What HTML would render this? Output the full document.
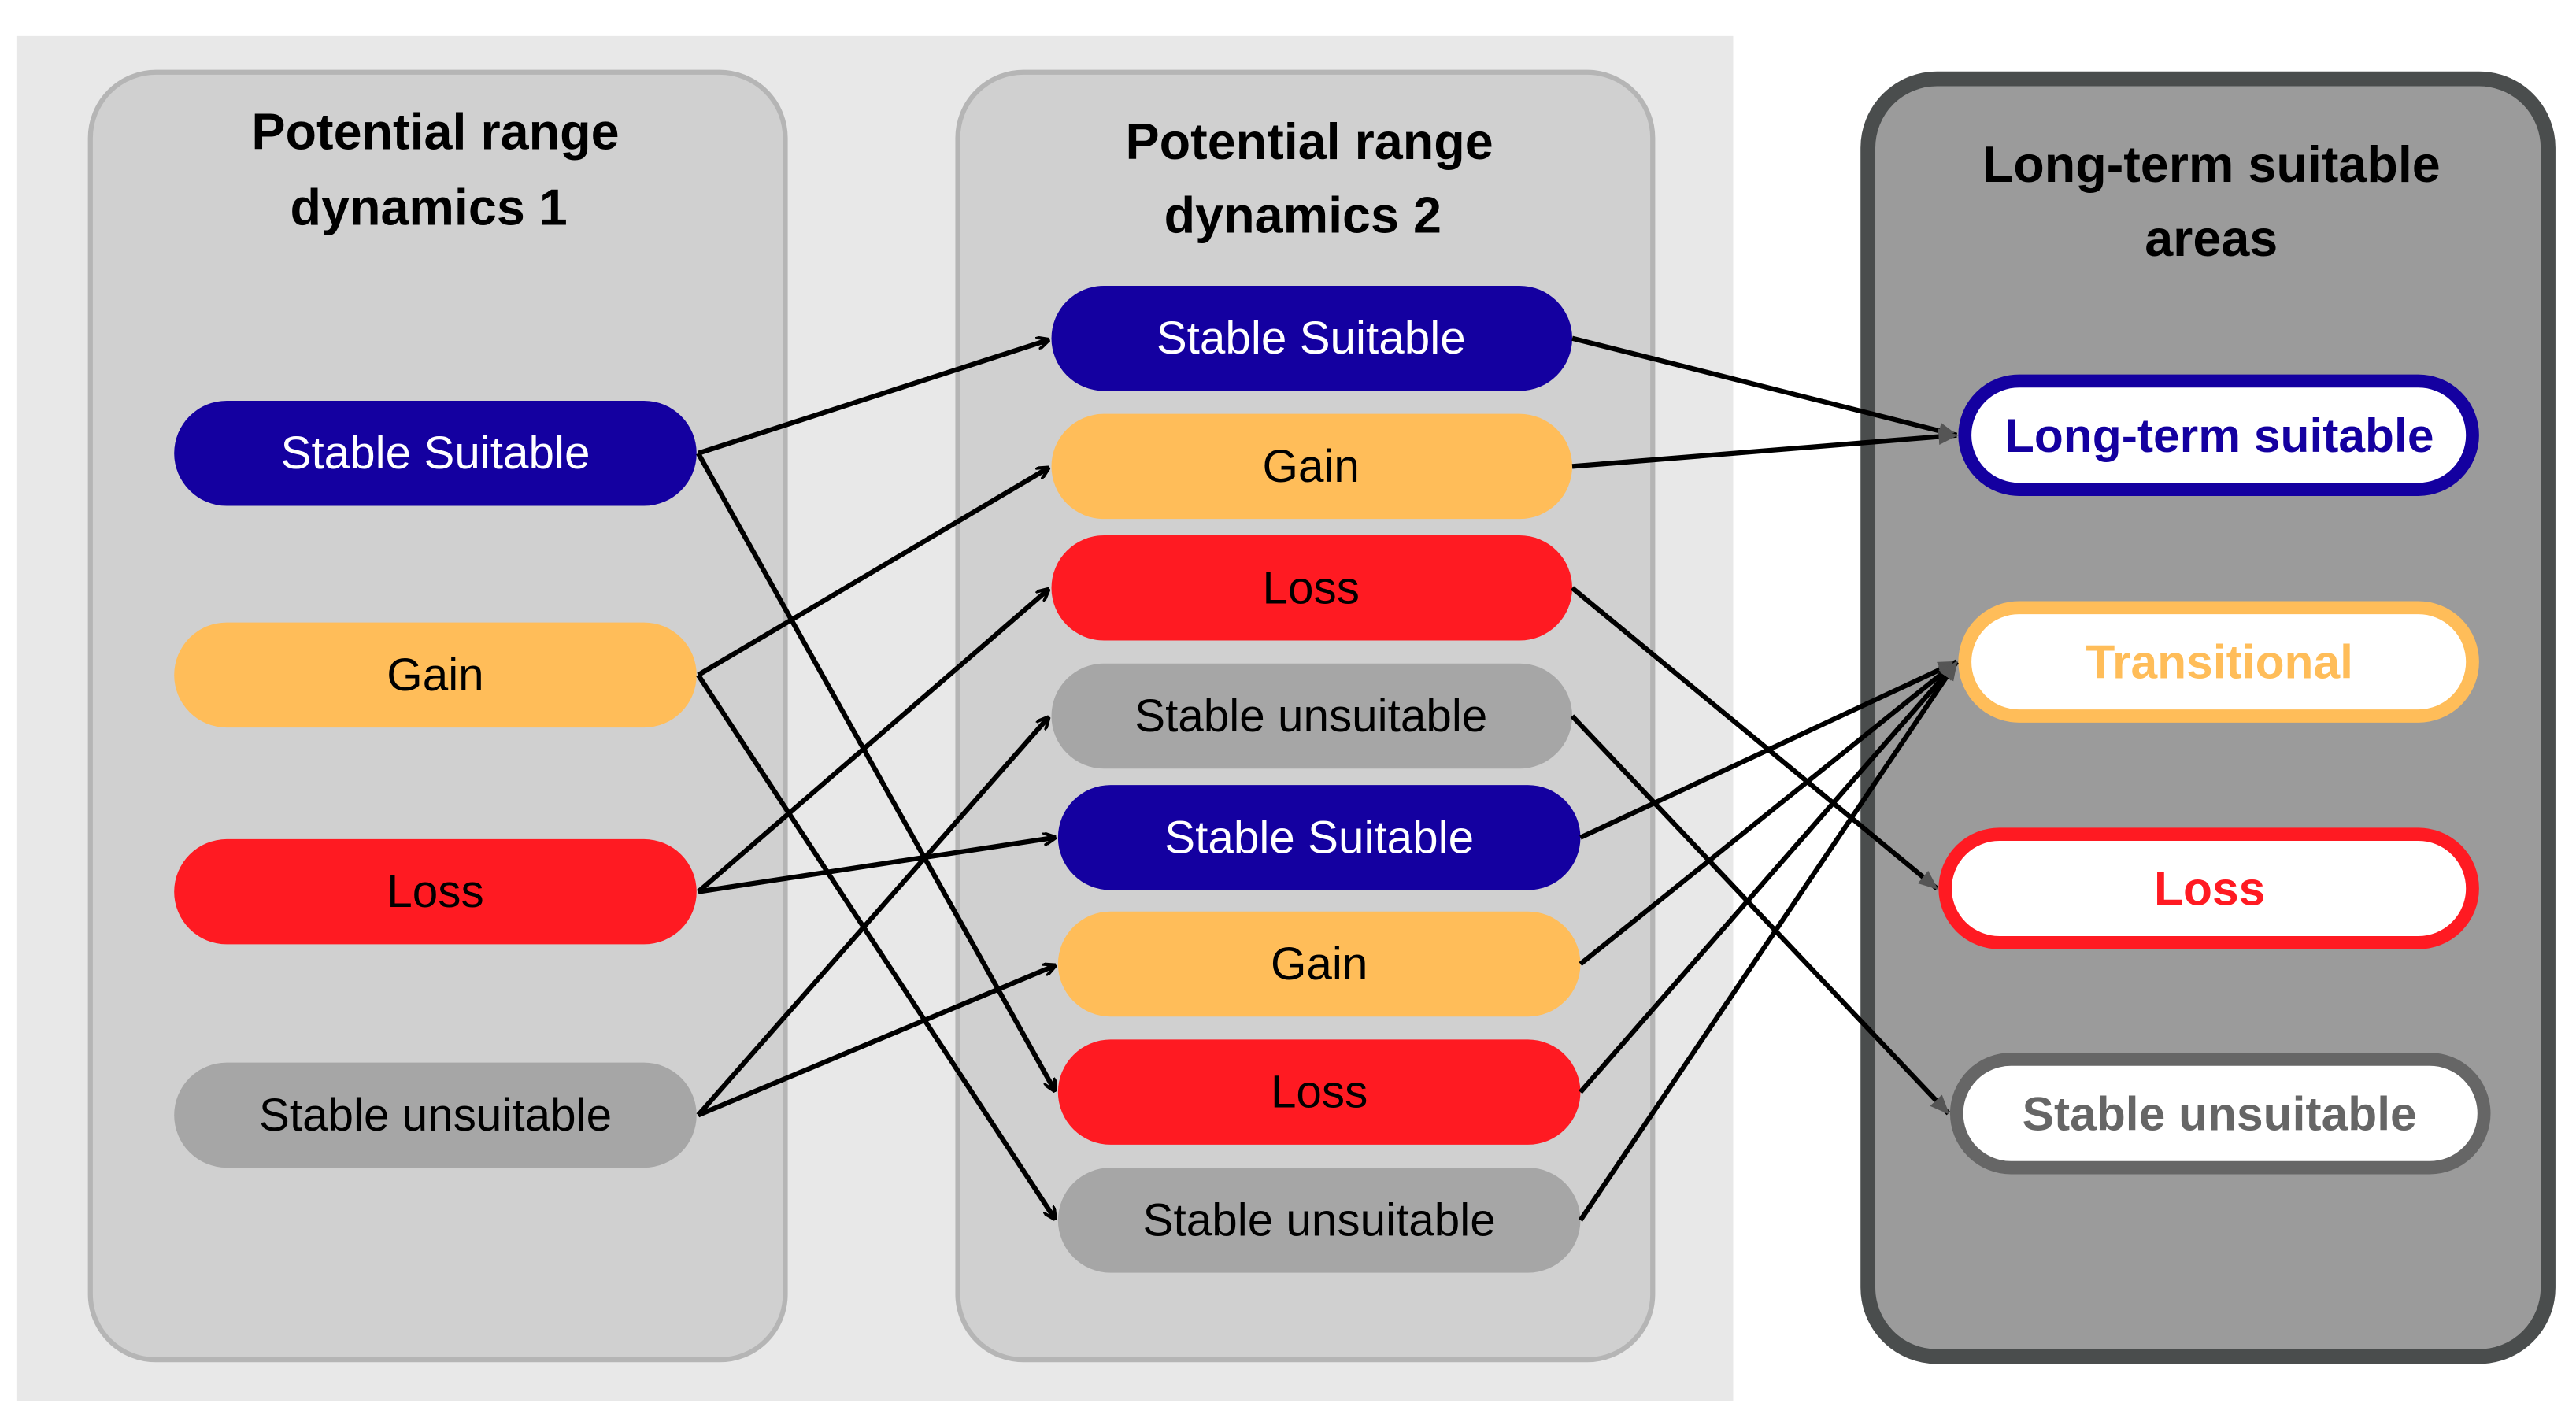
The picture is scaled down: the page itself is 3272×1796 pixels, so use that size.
<!DOCTYPE html>
<html><head><meta charset="utf-8"><style>
html,body{margin:0;padding:0;background:#fff;}
svg{display:block;}
text{font-family:"Liberation Sans","DejaVu Sans",sans-serif;text-anchor:middle;dominant-baseline:central;}
</style></head><body>
<svg width="3272" height="1796" viewBox="0 0 1568 861" preserveAspectRatio="none" xmlns="http://www.w3.org/2000/svg">
<defs>
<marker id="a" markerWidth="8" markerHeight="8" refX="7" refY="4" orient="auto" markerUnits="userSpaceOnUse" viewBox="0 0 8 8">
<path d="M0,0 L8,4 L0,8" fill="none" stroke="#000" stroke-width="2"/>
</marker>
<marker id="g" markerWidth="12" markerHeight="12" refX="11" refY="6" orient="auto" markerUnits="userSpaceOnUse" viewBox="0 0 12 12">
<path d="M0,1 L12,6 L0,11 Z" fill="#555"/>
</marker>
</defs>
<rect x="0" y="0" width="1568" height="861" fill="#fff"/>
<rect x="10" y="22" width="1045" height="831" fill="#e8e8e8"/>
<rect x="55" y="44" width="423" height="784" rx="40" fill="#d0d0d0" stroke="#b5b5b5" stroke-width="3"/>
<rect x="583" y="44" width="423" height="784" rx="40" fill="#d0d0d0" stroke="#b5b5b5" stroke-width="3"/>
<rect x="1137" y="48" width="414" height="778" rx="42" fill="#9b9b9b" stroke="#4a4d4d" stroke-width="9"/>

<g font-weight="bold" font-size="31" fill="#000">
<text x="265" y="80">Potential range</text><text x="261" y="126">dynamics 1</text>
<text x="797" y="86">Potential range</text><text x="793" y="131">dynamics 2</text>
<text x="1346" y="100">Long-term suitable</text><text x="1346" y="145">areas</text>
</g>

<g font-size="28">
<rect x="106" y="244" width="318" height="64" rx="32" fill="#1400a0"/><text x="265" y="276" fill="#fff">Stable Suitable</text>
<rect x="106" y="379" width="318" height="64" rx="32" fill="#ffbd59"/><text x="265" y="411" fill="#000">Gain</text>
<rect x="106" y="511" width="318" height="64" rx="32" fill="#ff1a22"/><text x="265" y="543" fill="#000">Loss</text>
<rect x="106" y="647" width="318" height="64" rx="32" fill="#a6a6a6"/><text x="265" y="679" fill="#000">Stable unsuitable</text>

<rect x="640" y="174" width="317" height="64" rx="32" fill="#1400a0"/><text x="798" y="206" fill="#fff">Stable Suitable</text>
<rect x="640" y="252" width="317" height="64" rx="32" fill="#ffbd59"/><text x="798" y="284" fill="#000">Gain</text>
<rect x="640" y="326" width="317" height="64" rx="32" fill="#ff1a22"/><text x="798" y="358" fill="#000">Loss</text>
<rect x="640" y="404" width="317" height="64" rx="32" fill="#a6a6a6"/><text x="798" y="436" fill="#000">Stable unsuitable</text>
<rect x="644" y="478" width="318" height="64" rx="32" fill="#1400a0"/><text x="803" y="510" fill="#fff">Stable Suitable</text>
<rect x="644" y="555" width="318" height="64" rx="32" fill="#ffbd59"/><text x="803" y="587" fill="#000">Gain</text>
<rect x="644" y="633" width="318" height="64" rx="32" fill="#ff1a22"/><text x="803" y="665" fill="#000">Loss</text>
<rect x="644" y="711" width="318" height="64" rx="32" fill="#a6a6a6"/><text x="803" y="743" fill="#000">Stable unsuitable</text>
</g>

<g font-size="29" font-weight="bold">
<rect x="1196" y="232" width="309" height="66" rx="33" fill="#fff" stroke="#1400a0" stroke-width="8"/><text x="1351" y="265" fill="#1400a0">Long-term suitable</text>
<rect x="1196" y="370" width="309" height="66" rx="33" fill="#fff" stroke="#ffbd59" stroke-width="8"/><text x="1351" y="403" fill="#ffbd59">Transitional</text>
<rect x="1184" y="508" width="321" height="66" rx="33" fill="#fff" stroke="#ff1a22" stroke-width="8"/><text x="1345" y="541" fill="#ff1a22">Loss</text>
<rect x="1191" y="645" width="321" height="66" rx="33" fill="#fff" stroke="#666" stroke-width="8"/><text x="1351" y="678" fill="#666">Stable unsuitable</text>
</g>

<g stroke="#000" stroke-width="3" fill="none" marker-end="url(#a)">
<line x1="425" y1="276" x2="638" y2="207"/>
<line x1="425" y1="276" x2="642" y2="664"/>
<line x1="425" y1="411" x2="638" y2="285"/>
<line x1="425" y1="411" x2="642" y2="742"/>
<line x1="425" y1="543" x2="638" y2="359"/>
<line x1="425" y1="543" x2="642" y2="510"/>
<line x1="425" y1="679" x2="638" y2="437"/>
<line x1="425" y1="679" x2="642" y2="588"/>
</g>
<g stroke="#000" stroke-width="3" fill="none" marker-end="url(#g)">
<line x1="957" y1="206" x2="1191" y2="265"/>
<line x1="957" y1="284" x2="1191" y2="265"/>
<line x1="957" y1="358" x2="1179" y2="541"/>
<line x1="957" y1="436" x2="1186" y2="678"/>
<line x1="962" y1="510" x2="1191" y2="403"/>
<line x1="962" y1="587" x2="1191" y2="403"/>
<line x1="962" y1="665" x2="1191" y2="403"/>
<line x1="962" y1="743" x2="1191" y2="403"/>
</g>
</svg>
</body></html>
